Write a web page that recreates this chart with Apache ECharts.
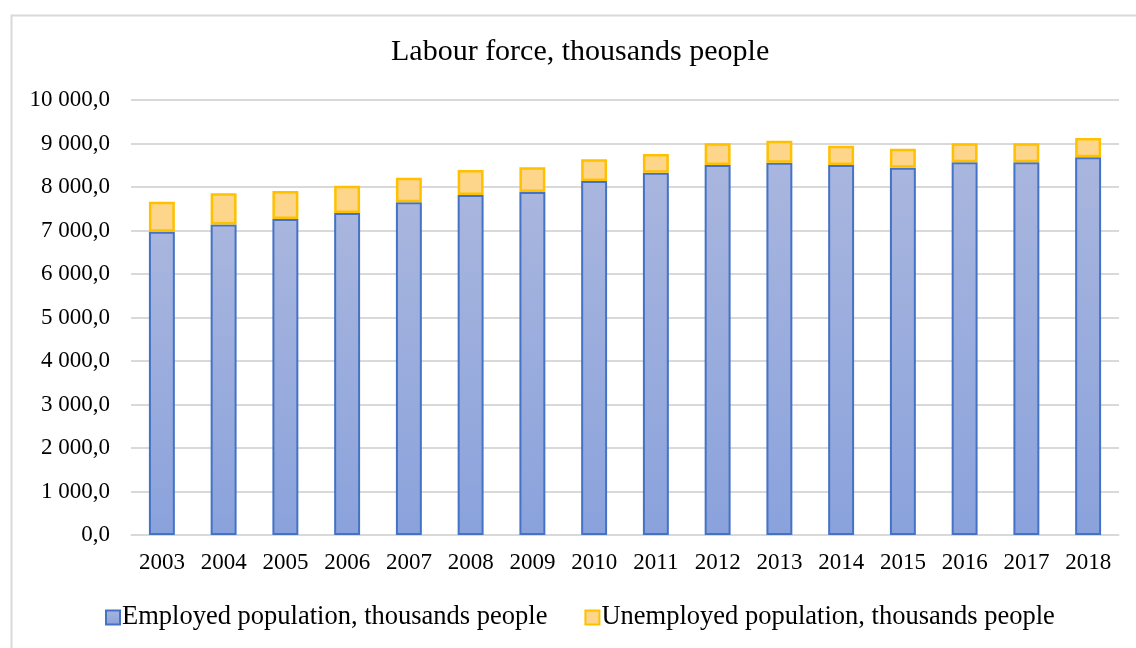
<!DOCTYPE html>
<html>
<head>
<meta charset="utf-8">
<style>
  html, body { margin: 0; padding: 0; background: #ffffff; }
  #chart { width: 1136px; height: 648px; }
</style>
<script src="https://cdn.jsdelivr.net/npm/echarts@6/dist/echarts.min.js"></script>
</head>
<body>
<div id="chart"></div>
<script>
// Labour force by year, thousands of people
const years = ['2003','2004','2005','2006','2007','2008','2009','2010','2011','2012','2013','2014','2015','2016','2017','2018'];
const employed = [6970, 7140, 7265, 7400, 7650, 7815, 7885, 8140, 8330, 8505, 8560, 8505, 8445, 8570, 8570, 8685];
const unemployed = [690, 715, 645, 630, 565, 575, 570, 500, 430, 500, 505, 445, 435, 435, 435, 440];
const seriesNames = ['Employed population, thousands people', 'Unemployed population, thousands people'];
const titleText = 'Labour force, thousands people';

const serif = '"Liberation Serif", "DejaVu Serif", serif';

// "10 000,0" style: space as thousands separator, comma decimal
function fmt(v) {
  const s = Math.round(v).toString().replace(/\B(?=(\d{3})+(?!\d))/g, ' ');
  return s + ',0';
}

const chart = echarts.init(document.getElementById('chart'), null, { renderer: 'canvas' });

chart.setOption({
  backgroundColor: '#ffffff',
  animation: false,
  graphic: [{
    type: 'rect',
    shape: { x: 11.5, y: 15.5, width: 1140, height: 660 },
    style: { fill: 'none', stroke: '#d9d9d9', lineWidth: 2 },
    silent: true
  }],
  title: {
    text: titleText,
    left: 386,
    top: 32,
    textStyle: { fontFamily: serif, fontSize: 30, fontWeight: 'normal', color: '#000' }
  },
  legend: {
    top: 599,
    left: 100,
    icon: 'rect',
    itemWidth: 14,
    itemHeight: 14,
    itemGap: 37,
    textStyle: { fontFamily: serif, fontSize: 26.5, color: '#000', padding: [0, 0, 0, -3] },
    data: seriesNames
  },
  grid: { left: 131, right: 17, top: 100, bottom: 113, containLabel: false },
  xAxis: {
    type: 'category',
    data: years,
    axisTick: { show: false },
    axisLine: { show: true, lineStyle: { color: '#d9d9d9', width: 1 } },
    axisLabel: { fontFamily: serif, fontSize: 23, color: '#000', margin: 16 }
  },
  yAxis: {
    type: 'value',
    min: 0,
    max: 10000,
    interval: 1000,
    axisLine: { show: false },
    axisTick: { show: false },
    splitLine: { lineStyle: { color: '#d9d9d9', width: 2 } },
    axisLabel: { fontFamily: serif, fontSize: 23, color: '#000', margin: 21, formatter: fmt }
  },
  series: [
    {
      name: seriesNames[0],
      type: 'bar',
      stack: 'labour',
      barWidth: '42%',
      data: employed,
      itemStyle: {
        color: new echarts.graphic.LinearGradient(0, 0, 0, 1, [
          { offset: 0, color: '#a9b6de' },
          { offset: 1, color: '#8aa2dc' }
        ]),
        borderColor: '#4472c4',
        borderWidth: 2
      }
    },
    {
      name: seriesNames[1],
      type: 'bar',
      stack: 'labour',
      barWidth: '42%',
      data: unemployed,
      itemStyle: {
        color: '#fed68b',
        borderColor: '#ffc000',
        borderWidth: 2.5
      }
    }
  ]
});
</script>
</body>
</html>
